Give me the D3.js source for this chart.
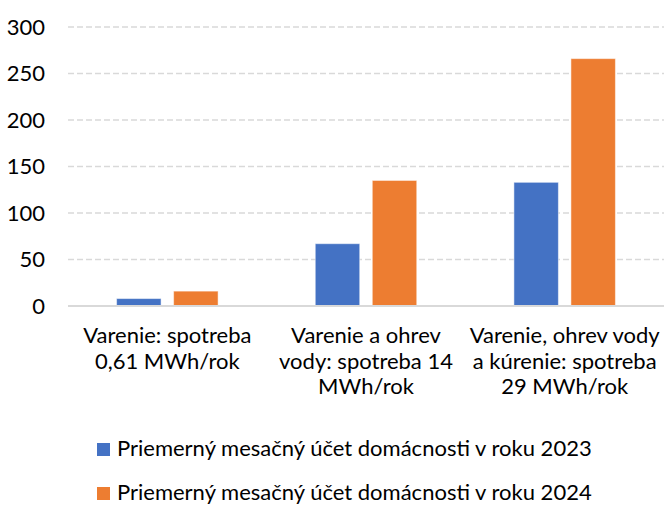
<!DOCTYPE html>
<html>
<head>
<meta charset="utf-8">
<script src="https://cdn.jsdelivr.net/npm/d3@7"></script>
<style>
  body { margin:0; background:#fff; }
  text { font-family: Lato, "Open Sans", sans-serif; }
  .axis .domain { display:none; }
</style>
</head>
<body>
<div id="chart"></div>
<script>
// categories, wrapped by hand the way the original breaks them
const categories = ["c1", "c2", "c3"];
const catLines = [
  ["Varenie: spotreba", "0,61 MWh/rok"],
  ["Varenie a ohrev", "vody: spotreba 14", "MWh/rok"],
  ["Varenie, ohrev vody", "a kúrenie: spotreba", "29 MWh/rok"]
];
const series = ["Priemerný mesačný účet domácnosti v roku 2023",
                "Priemerný mesačný účet domácnosti v roku 2024"];
const vals2023 = [8, 67, 133];
const vals2024 = [16, 135, 266];
const yTicks = [0, 50, 100, 150, 200, 250, 300];

const w = 670, h = 505;
const m = { top:27, right:6, bottom:199, left:68 };
const iw = w - m.left - m.right, ih = h - m.top - m.bottom;
const fs = 22;

const svg = d3.select("#chart").append("svg").attr("width", w).attr("height", h);
const g = svg.append("g").attr("transform", `translate(${m.left},${m.top})`);

const x0 = d3.scaleBand().domain(categories).range([0, iw]).padding(0);
const groupW = 101.5;
const x1 = d3.scaleBand().domain(series).range([0, groupW]).paddingInner(0.22);
const y = d3.scaleLinear().domain([0, 300]).range([ih, 0]);
const color = d3.scaleOrdinal().domain(series).range(["#4472C4", "#ED7D31"]);

// clipped axis title peeking in at the very top
svg.append("text").attr("x", 4).attr("y", -4)
  .attr("fill", "#C55A11").attr("font-size", fs).text("(€/mesiac)");

// dashed gridlines
g.append("g").selectAll("line")
  .data(yTicks.filter(d => d > 0)).enter().append("line")
  .attr("x1", 0).attr("x2", iw)
  .attr("y1", d => y(d)).attr("y2", d => y(d))
  .attr("stroke", "#d9d9d9").attr("stroke-width", 1.3)
  .attr("stroke-dasharray", "6,3");

// y axis labels
const gy = g.append("g").attr("class", "axis")
  .call(d3.axisLeft(y).tickValues(yTicks).tickSize(0).tickPadding(23));
gy.selectAll("text").attr("font-size", fs).attr("fill", "#000")
  .style("font-family", "Lato, sans-serif");

// bars
const rows = categories.map((c, i) => ({ cat:c, v:[vals2023[i], vals2024[i]] }));
const gc = g.selectAll(".grp").data(rows).enter().append("g")
  .attr("transform", d => `translate(${x0(d.cat) + x0.bandwidth()/2 - groupW/2},0)`);
gc.selectAll("rect")
  .data(d => series.map((s, j) => ({ s, v:d.v[j] }))).enter().append("rect")
  .attr("x", d => x1(d.s))
  .attr("y", d => y(d.v))
  .attr("width", x1.bandwidth())
  .attr("height", d => ih - y(d.v))
  .attr("fill", d => color(d.s))
  .attr("stroke", "#fff").attr("stroke-opacity", 0.5).attr("stroke-width", 1);

// base line
g.append("line").attr("x1", 0).attr("x2", iw).attr("y1", ih).attr("y2", ih)
  .attr("stroke", "#d9d9d9").attr("stroke-width", 2);

// x axis with wrapped labels
const gx = g.append("g").attr("class", "axis").attr("transform", `translate(0,${ih})`)
  .call(d3.axisBottom(x0).tickSize(0));
gx.selectAll("text").each(function(d, i) {
  const t = d3.select(this).text(null)
    .attr("font-size", fs).attr("fill", "#000").attr("y", 0).attr("dy", null)
    .style("font-family", "Lato, sans-serif");
  catLines[i].forEach((ln, k) => {
    t.append("tspan").attr("x", 0).attr("y", 37 + k * 25.7).text(ln);
  });
});

// legend
const lg = svg.append("g").attr("transform", "translate(97,0)");
const items = lg.selectAll("g").data(series).enter().append("g")
  .attr("transform", (d, i) => `translate(0,${443 + i * 44})`);
items.append("rect").attr("width", 13).attr("height", 13).attr("fill", d => color(d));
items.append("text").attr("x", 20).attr("y", 13).attr("font-size", fs)
  .attr("fill", "#000").text(d => d);
</script>
</body>
</html>
